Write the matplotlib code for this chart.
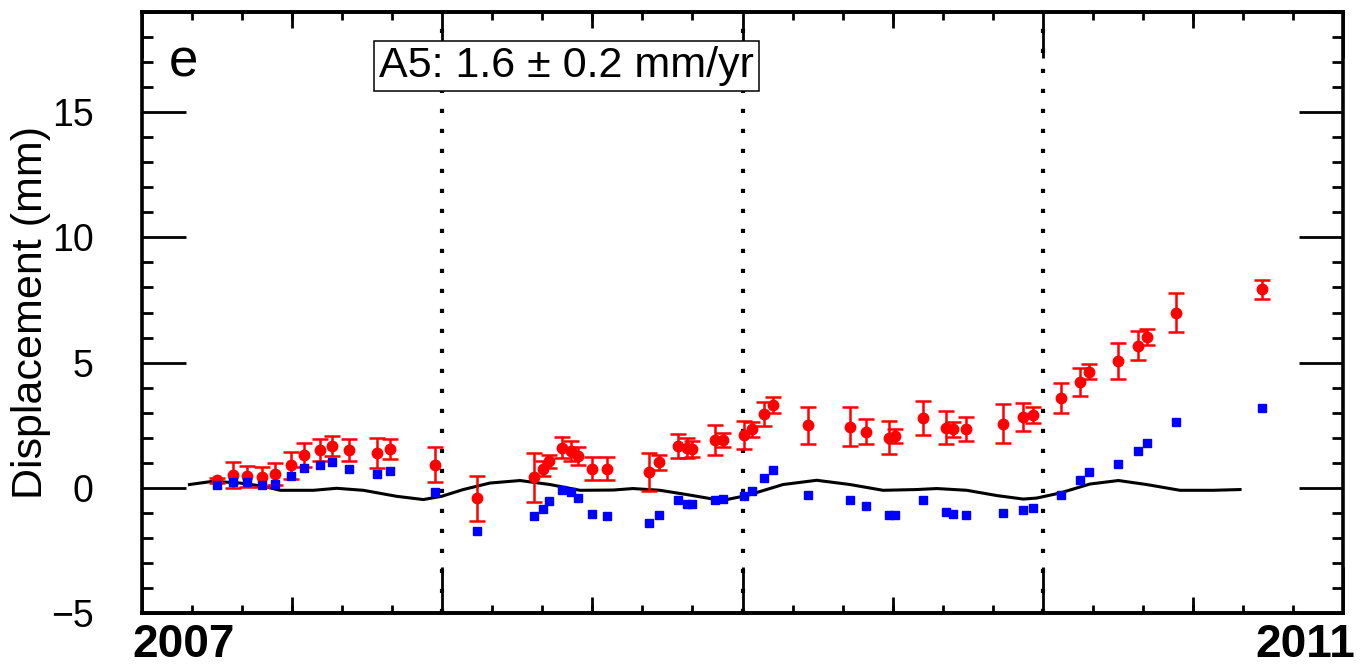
import numpy as np
import matplotlib
matplotlib.use('Agg')
import matplotlib.pyplot as plt
import matplotlib.transforms as mtransforms
from matplotlib.ticker import MultipleLocator, FixedLocator

# epochs (decimal year) of the InSAR acquisitions
dates = [2007.249, 2007.304, 2007.351, 2007.401, 2007.444, 2007.495, 2007.540, 2007.593,
         2007.634, 2007.689, 2007.784, 2007.826, 2007.976,
         2008.115, 2008.306, 2008.337, 2008.355, 2008.400, 2008.429, 2008.453, 2008.500,
         2008.548, 2008.689, 2008.722, 2008.786, 2008.814, 2008.833, 2008.908, 2008.936,
         2009.005, 2009.031,
         2009.072, 2009.103, 2009.219, 2009.358, 2009.411, 2009.489, 2009.508, 2009.602,
         2009.678, 2009.700, 2009.744, 2009.869, 2009.935, 2009.967,
         2010.060, 2010.124, 2010.155, 2010.252, 2010.318, 2010.346, 2010.443, 2010.731]

# red: corrected displacement with error bars (mm)
red_disp = [0.30, 0.50, 0.46, 0.43, 0.55, 0.90, 1.31, 1.49, 1.68, 1.49, 1.40, 1.55, 0.93,
            -0.41, 0.42, 0.77, 1.06, 1.60, 1.47, 1.27, 0.77, 0.77, 0.63, 1.01, 1.67, 1.60,
            1.53, 1.90, 1.90, 2.11, 2.33,
            2.94, 3.31, 2.50, 2.44, 2.24, 2.00, 2.07, 2.78, 2.40, 2.34, 2.36, 2.56, 2.84, 2.91,
            3.58, 4.24, 4.64, 5.05, 5.68, 6.02, 7.00, 7.92]
red_err = [0.11, 0.51, 0.41, 0.41, 0.44, 0.54, 0.47, 0.44, 0.40, 0.44, 0.60, 0.41, 0.68,
           0.90, 0.97, 0.30, 0.25, 0.41, 0.40, 0.35, 0.44, 0.45, 0.74, 0.29, 0.48, 0.40,
           0.32, 0.60, 0.27, 0.57, 0.30,
           0.47, 0.33, 0.74, 0.78, 0.49, 0.67, 0.27, 0.69, 0.67, 0.30, 0.48, 0.77, 0.56, 0.33,
           0.60, 0.56, 0.31, 0.72, 0.59, 0.33, 0.76, 0.37]

# blue: uncorrected displacement (mm)
blue_disp = [0.13, 0.23, 0.23, 0.13, 0.17, 0.46, 0.80, 0.90, 1.04, 0.77, 0.55, 0.66, -0.17,
             -1.71, -1.14, -0.84, -0.51, -0.07, -0.17, -0.41, -1.04, -1.12, -1.41, -1.08,
             -0.47, -0.63, -0.63, -0.47, -0.43, -0.31, -0.14,
             0.39, 0.73, -0.27, -0.47, -0.74, -1.10, -1.08, -0.47, -0.98, -1.04, -1.08,
             -1.01, -0.88, -0.81,
             -0.27, 0.30, 0.63, 0.96, 1.47, 1.79, 2.64, 3.20]

# black: seasonal model
model_t = [2007.158, 2007.237, 2007.326, 2007.404, 2007.460, 2007.571, 2007.648, 2007.737,
           2007.848, 2007.937, 2007.998, 2008.070, 2008.159, 2008.259, 2008.359, 2008.459,
           2008.569, 2008.635, 2008.725, 2008.814, 2008.902, 2008.947, 2009.014, 2009.135,
           2009.247, 2009.358, 2009.468, 2009.580, 2009.647, 2009.747, 2009.847, 2009.935,
           2009.980, 2010.057, 2010.157, 2010.252, 2010.346, 2010.457, 2010.568, 2010.657]
model_y = [0.13, 0.26, 0.19, 0.06, -0.10, -0.10, -0.02, -0.10,
           -0.34, -0.47, -0.34, -0.07, 0.19, 0.29, 0.13, -0.10,
           -0.09, -0.03, -0.10, -0.27, -0.45, -0.47, -0.31, 0.13,
           0.30, 0.13, -0.10, -0.07, -0.03, -0.10, -0.31, -0.45,
           -0.41, -0.21, 0.15, 0.29, 0.13, -0.10, -0.10, -0.07]

year_lines = [2008, 2009, 2010]
year_ticks = [2007, 2008, 2009, 2010, 2011]
year_labels = ['2007', '', '', '', '2011']
half_years = [2007.5, 2008.5, 2009.5, 2010.5]
rate_text = 'A5: 1.6 ± 0.2 mm/yr'
panel = 'e'

plt.rcParams['font.family'] = ['Liberation Sans', 'DejaVu Sans']

fig = plt.figure(figsize=(13.6, 6.7), dpi=100)
ax = fig.add_axes([142 / 1360, 57 / 670, 1201 / 1360, 601 / 670])

for yl in year_lines:
    ax.axvline(yl, color='black', lw=3, dashes=(1, 3.8), zorder=1)

ax.plot(model_t, model_y, color='black', lw=2.2, solid_joinstyle='round', zorder=2)
ax.errorbar(dates, red_disp, yerr=red_err, fmt='o', color='#ff0000', ms=7.5,
            elinewidth=1.8, capsize=6, capthick=1.8, zorder=3)
ax.plot(dates, blue_disp, 's', color='#0000ff', ms=5.5, zorder=4)

ax.set_xlim(2007, 2011)
ax.set_ylim(-5, 19)

for s in ax.spines.values():
    s.set_linewidth(2.6)

ax.set_xticks(year_ticks)
ax.set_xticklabels(year_labels, fontsize=33, fontweight='bold')
ax.xaxis.set_minor_locator(MultipleLocator(1 / 6))
ax.tick_params(axis='x', which='major', direction='in', length=33, width=2,
               top=True, bottom=True, pad=7)
ax.tick_params(axis='x', which='minor', direction='in', length=6, width=2,
               top=True, bottom=True)

lbls = ax.get_xticklabels()
lbls[0].set_ha('left')
lbls[0].set_transform(lbls[0].get_transform() +
                      mtransforms.ScaledTranslation(-0.10, 0, fig.dpi_scale_trans))
lbls[-1].set_ha('right')
lbls[-1].set_transform(lbls[-1].get_transform() +
                       mtransforms.ScaledTranslation(0.12, 0, fig.dpi_scale_trans))

# mid-year ticks, medium length
for loc in ('bottom', 'top'):
    sec = ax.secondary_xaxis(loc)
    sec.xaxis.set_major_locator(FixedLocator(half_years))
    sec.tick_params(direction='in', length=11.5, width=2, labelbottom=False,
                    labeltop=False)
    sec.spines[loc].set_linewidth(2.6)

ax.yaxis.set_major_locator(MultipleLocator(5))
ax.yaxis.set_minor_locator(MultipleLocator(1))
ax.tick_params(axis='y', which='major', direction='in', length=32, width=2,
               left=True, right=True, pad=35, labelsize=27)
ax.tick_params(axis='y', which='minor', direction='in', length=8, width=2,
               left=True, right=True)

ax.set_ylabel('Displacement (mm)', fontsize=31)
ax.yaxis.set_label_coords(-0.076, 0.5)

ax.text(0.3535, 0.91, rate_text, transform=ax.transAxes, ha='center', va='center',
        fontsize=31, zorder=6,
        bbox=dict(boxstyle='square,pad=0.12', fc='white', ec='black', lw=1.1))
ax.text(0.022, 0.892, panel, transform=ax.transAxes, ha='left', va='baseline',
        fontsize=38)

fig.savefig('out.png', dpi=100)
